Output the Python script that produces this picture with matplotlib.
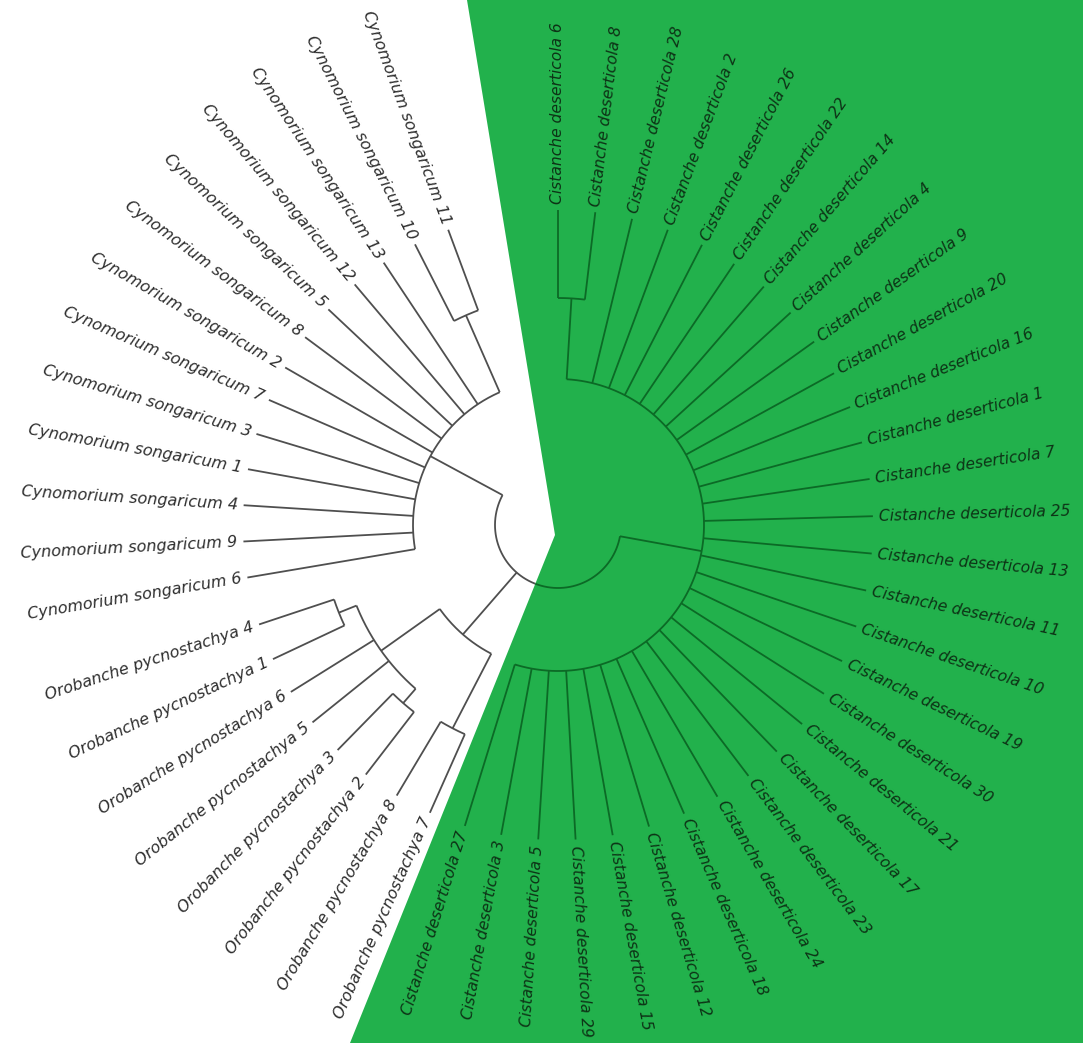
import numpy as np
import matplotlib
matplotlib.use("Agg")
import matplotlib.pyplot as plt
from matplotlib.patches import Polygon

CIS = "Cistanche deserticola"
ORO = "Orobanche pycnostachya"
CYN = "Cynomorium songaricum"

# leaf order, clockwise from the top of the circle
cistanche_ids = [6, 8, 28, 2, 26, 22, 14, 4, 9, 20, 16, 1, 7, 25, 13, 11, 10,
                 19, 30, 21, 17, 23, 24, 18, 12, 15, 29, 5, 3, 27]
orobanche_ids = [7, 8, 2, 3, 5, 6, 1, 4]
cynomorium_ids = [6, 9, 4, 1, 3, 7, 2, 8, 5, 12, 13, 10, 11]

# tip radius of the leaves
tip_r = 315

# internal node radii
root_r = 63
cis_r, oro_r, cyn_r = 146, 145, 145
cis_pair_r = 227      # Cistanche 6 + 8
cyn_pair_r = 229      # Cynomorium 10 + 11
oro_pair78_r = 229    # Orobanche 7 + 8
oro_sub_r = 217       # Orobanche 2, 3, 5, 6, 1, 4
oro_pair23_r = 236    # Orobanche 2 + 3
oro_pair14_r = 236    # Orobanche 1 + 4

# layout constants (angular steps per group, and gaps between groups)
START_ANGLE = 90.0
STEP = {CIS: 6.8, ORO: 6.8, CYN: 6.6}
GAP = {(CIS, ORO): 6.8, (ORO, CYN): 8.8}
W, H = 1083, 1043
CX, CY = 558, 525     # tree centre in pixels
GREEN = "#22b14c"


def leaf(group, num):
    return {"name": f"{group} {num}", "group": group, "r": tip_r}


def node(r, children):
    return {"r": r, "children": children}


cis_leaves = [leaf(CIS, i) for i in cistanche_ids]
oro_leaves = {i: leaf(ORO, i) for i in orobanche_ids}
cyn_leaves = [leaf(CYN, i) for i in cynomorium_ids]

cis_clade = node(cis_r, [node(cis_pair_r, cis_leaves[:2])] + cis_leaves[2:])
oro_clade = node(oro_r, [
    node(oro_pair78_r, [oro_leaves[7], oro_leaves[8]]),
    node(oro_sub_r, [node(oro_pair23_r, [oro_leaves[2], oro_leaves[3]]),
                     oro_leaves[5], oro_leaves[6],
                     node(oro_pair14_r, [oro_leaves[1], oro_leaves[4]])]),
])
cyn_clade = node(cyn_r, cyn_leaves[:-2] + [node(cyn_pair_r, cyn_leaves[-2:])])
tree = node(root_r, [cis_clade, oro_clade, cyn_clade])

# assign angles
state = {"a": START_ANGLE, "group": None}


def assign(n):
    if "children" not in n:
        g = n["group"]
        if state["group"] is not None:
            if state["group"] == g:
                state["a"] -= STEP[g]
            else:
                state["a"] -= GAP[(state["group"], g)]
        state["group"] = g
        n["a"] = state["a"]
        return n["a"]
    angs = [assign(c) for c in n["children"]]
    n["a"] = (angs[0] + angs[-1]) / 2
    return n["a"]


assign(tree)


def pol(r, a):
    t = np.deg2rad(a)
    return r * np.cos(t), r * np.sin(t)


segments = []


def collect(n):
    if "children" not in n:
        return
    a0, a1 = n["children"][0]["a"], n["children"][-1]["a"]
    ts = np.linspace(a0, a1, 200)
    xs, ys = pol(n["r"], ts)
    segments.append((xs, ys))
    for c in n["children"]:
        x0, y0 = pol(n["r"], c["a"])
        x1, y1 = pol(c["r"], c["a"])
        segments.append((np.array([x0, x1]), np.array([y0, y1])))
        collect(c)


collect(tree)

fig = plt.figure(figsize=(W / 100, H / 100), dpi=100)
ax = fig.add_axes([0, 0, 1, 1])
ax.set_xlim(-CX, W - CX)
ax.set_ylim(-(H - CY), CY)
ax.set_aspect("equal")
ax.axis("off")


def px(x, y):
    return (x - CX, CY - y)


green_poly = [px(467, 0), px(555, 535), px(350, H), px(W, H), px(W, 0)]
white_poly = [px(0, 0), px(467, 0), px(555, 535), px(350, H), px(0, H)]
ax.add_patch(Polygon(green_poly, closed=True, facecolor=GREEN, edgecolor="none", zorder=0))
white_clip = Polygon(white_poly, closed=True, transform=ax.transData)
green_clip = Polygon(green_poly, closed=True, transform=ax.transData)

for xs, ys in segments:
    l1, = ax.plot(xs, ys, color="#4f4f4f", lw=1.3, solid_capstyle="butt", zorder=2)
    l1.set_clip_path(white_clip)
    l2, = ax.plot(xs, ys, color="#0c6a26", lw=1.3, solid_capstyle="butt", zorder=2)
    l2.set_clip_path(green_clip)

leaves = []


def gather(n):
    if "children" not in n:
        leaves.append(n)
    else:
        for c in n["children"]:
            gather(c)


gather(tree)
for lf in leaves:
    a = lf["a"] % 360
    x, y = pol(lf["r"] + 6, lf["a"])
    if 90 < a < 270:
        rot, ha = a - 180, "right"
    else:
        rot, ha = (a if a <= 90 else a - 360), "left"
    if lf["group"] == CIS:
        color, size = "#0d3316", 11.2
    else:
        color, size = "#2e2e2e", 11.5
    ax.text(x, y, lf["name"], rotation=rot, rotation_mode="anchor", ha=ha, va="center",
            fontsize=size, style="italic", color=color, family="DejaVu Sans", zorder=3)

fig.savefig("out.png", dpi=100)
